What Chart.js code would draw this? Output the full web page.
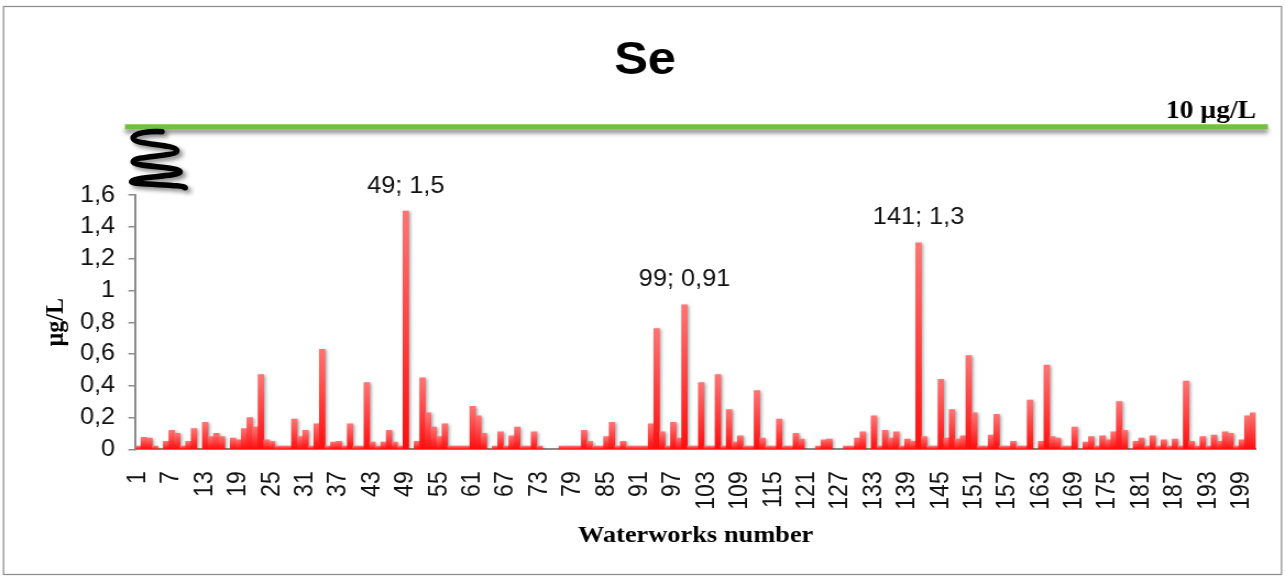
<!DOCTYPE html>
<html>
<head>
<meta charset="utf-8">
<script src="https://cdn.jsdelivr.net/npm/chart.js@4.4.1/dist/chart.umd.min.js"></script>
<style>
  html, body { margin: 0; padding: 0; background: #ffffff; overflow: hidden; }
  /* the drawing is laid out on a 1168px-wide canvas and widened to the 1285px page */
  #wrap { width: 1168px; height: 578px; transform: scaleX(1.10017); transform-origin: 0 0; }
</style>
</head>
<body>
<div id="wrap"><canvas id="chart"></canvas></div>
<script>
// Selenium (Se) in drinking water, per waterworks, µg/L
const seValues = [
  0.02, 0.075, 0.07, 0.02, 0, 0.05, 0.12, 0.10, 0.02, 0.05,
  0.13, 0, 0.17, 0.08, 0.10, 0.08, 0, 0.07, 0.06, 0.13,
  0.20, 0.14, 0.47, 0.06, 0.05, 0.02, 0.02, 0.02, 0.19, 0.08,
  0.12, 0.02, 0.16, 0.63, 0.02, 0.045, 0.05, 0.02, 0.16, 0.02,
  0.02, 0.42, 0.045, 0.02, 0.045, 0.12, 0.045, 0.02, 1.5, 0,
  0.05, 0.45, 0.23, 0.14, 0.08, 0.16, 0.02, 0.02, 0.02, 0.02,
  0.27, 0.21, 0.10, 0, 0.02, 0.11, 0.02, 0.085, 0.14, 0.02,
  0.02, 0.11, 0.02, 0, 0, 0, 0.02, 0.02, 0.02, 0.02,
  0.12, 0.05, 0.02, 0.02, 0.08, 0.17, 0.02, 0.05, 0.02, 0.02,
  0.02, 0.02, 0.16, 0.76, 0.11, 0.02, 0.17, 0.07, 0.91, 0.02,
  0.02, 0.42, 0.02, 0.02, 0.47, 0.02, 0.25, 0.045, 0.085, 0.02,
  0.02, 0.37, 0.07, 0.02, 0.02, 0.19, 0.02, 0.02, 0.10, 0.065,
  0, 0, 0.02, 0.06, 0.065, 0, 0, 0.02, 0.02, 0.07,
  0.11, 0, 0.21, 0.02, 0.12, 0.07, 0.11, 0.02, 0.065, 0.05,
  1.3, 0.08, 0.02, 0.02, 0.44, 0.07, 0.25, 0.065, 0.085, 0.59,
  0.23, 0.02, 0.02, 0.09, 0.22, 0.02, 0.02, 0.05, 0.02, 0.02,
  0.31, 0, 0.05, 0.53, 0.08, 0.07, 0.02, 0.02, 0.14, 0,
  0.045, 0.08, 0.02, 0.085, 0.06, 0.11, 0.30, 0.12, 0, 0.05,
  0.07, 0.02, 0.085, 0.02, 0.06, 0.02, 0.065, 0.02, 0.43, 0.05,
  0.02, 0.08, 0.02, 0.09, 0.05, 0.11, 0.10, 0.02, 0.06, 0.21,
  0.23
];

// waterworks are numbered consecutively from 1
const waterworks = seValues.map((_, i) => String(i + 1));

// numbers printed under the axis
const xTickLabels = ['1', '7', '13', '19', '25', '31', '37', '43', '49', '55', '61', '67', '73', '79',
  '85', '91', '97', '103', '109', '115', '121', '127', '133', '139', '145', '151', '157', '163',
  '169', '175', '181', '187', '193', '199'];

// waterworks whose value is written above the bar
const labelledWorks = ['49', '99', '141'];

const chartTitle = 'Se';
const limitText = '10 µg/L';
const yTitle = 'µg/L';
const xTitle = 'Waterworks number';

const SANS = "'Liberation Sans', Arial, Helvetica, sans-serif";
const SERIF = "'Liberation Serif', 'Times New Roman', Times, serif";
const SX = 1.10017; // horizontal widening of the page

const fmt = v => String(Math.round(v * 100) / 100).replace('.', ',');

function barFill(ctx) {
  const chart = ctx.chart;
  if (!chart.chartArea || ctx.type !== 'data' || !chart.scales.y) return '#ff3b3b';
  const y = chart.scales.y;
  const top = y.getPixelForValue(ctx.raw);
  const base = y.getPixelForValue(0);
  if (base - top < 1) return '#ff5c5c';
  const g = chart.ctx.createLinearGradient(0, top, 0, base);
  g.addColorStop(0, '#ff7474');
  g.addColorStop(1, '#ff0d0d');
  return g;
}

const decor = {
  id: 'decor',
  beforeDraw(chart) {
    const c = chart.ctx;
    c.save();
    c.fillStyle = '#ffffff';
    c.fillRect(0, 0, chart.width, chart.height);
    c.strokeStyle = '#8a8a8a';
    c.lineWidth = 1.2;
    c.strokeRect(3.2, 6.5, 1161.6, 568);
    c.restore();
  },
  beforeDatasetsDraw(chart) {
    const c = chart.ctx;
    c.save();
    c.shadowColor = 'rgba(0,0,0,0.33)';
    c.shadowBlur = 3;
    c.shadowOffsetX = 1.5;
    c.shadowOffsetY = 1;
  },
  afterDatasetsDraw(chart) {
    const c = chart.ctx;
    c.restore();
    // value callouts above selected bars
    const meta = chart.getDatasetMeta(0);
    c.save();
    c.fillStyle = '#111111';
    c.font = '23px ' + SANS;
    c.textAlign = 'center';
    c.textBaseline = 'alphabetic';
    labelledWorks.forEach(w => {
      const i = waterworks.indexOf(w);
      const bar = meta.data[i];
      c.fillText(w + '; ' + fmt(seValues[i]), bar.x, bar.y - 18.5);
    });
    c.restore();
  },
  afterDraw(chart) {
    const c = chart.ctx;
    c.save();
    // title
    c.fillStyle = '#000000';
    c.font = 'bold 46px ' + SANS;
    c.textAlign = 'center';
    c.textBaseline = 'alphabetic';
    c.fillText(chartTitle, 645 / SX, 73.5);

    // guideline value line above the broken axis
    c.save();
    c.shadowColor = 'rgba(0,0,0,0.45)';
    c.shadowBlur = 4;
    c.shadowOffsetY = 4;
    c.strokeStyle = '#72bf44';
    c.lineWidth = 5;
    c.beginPath();
    c.moveTo(125 / SX, 126.8);
    c.lineTo(1268 / SX, 126.8);
    c.stroke();
    c.restore();

    c.font = 'bold 25px ' + SERIF;
    c.textAlign = 'right';
    c.fillStyle = '#000000';
    c.fillText(limitText, 1256 / SX, 118.3);

    // axis break squiggle
    const pts = [[133.3, 138.3], [176.7, 150.7], [133.3, 161.7], [180, 171.7], [131.7, 181.7], [185, 187.7]];
    c.save();
    c.shadowColor = 'rgba(0,0,0,0.45)';
    c.shadowBlur = 4;
    c.shadowOffsetX = 3;
    c.shadowOffsetY = 3;
    c.strokeStyle = '#000000';
    c.lineWidth = 5.5;
    c.lineCap = 'round';
    c.lineJoin = 'round';
    c.beginPath();
    c.moveTo(161.7 / SX, 131.7);
    c.bezierCurveTo(150 / SX, 131.2, 133.3 / SX, 132.5, pts[0][0] / SX, pts[0][1]);
    for (let k = 1; k < pts.length; k++) {
      const [x0, y0] = pts[k - 1];
      const [x1, y1] = pts[k];
      const h = (y1 - y0) * 0.55;
      c.bezierCurveTo(x0 / SX, y0 + h, x1 / SX, y1 - h, x1 / SX, y1);
    }
    c.stroke();
    c.restore();
    c.restore();
  }
};

new Chart(document.getElementById('chart'), {
  type: 'bar',
  data: {
    labels: waterworks,
    datasets: [{
      data: seValues,
      backgroundColor: barFill,
      borderWidth: 0,
      barPercentage: 1,
      categoryPercentage: 1
    }]
  },
  options: {
    responsive: true,
    maintainAspectRatio: false,
    animation: false,
    devicePixelRatio: 1,
    layout: { padding: { top: 195.2, right: 26.6, bottom: 25.6, left: 32.6 } },
    plugins: {
      legend: { display: false },
      tooltip: { enabled: false },
      title: { display: false }
    },
    scales: {
      x: {
        grid: { display: false, drawTicks: false },
        border: { display: true, color: '#8c8c8c', width: 2 },
        ticks: {
          autoSkip: false,
          minRotation: 90,
          maxRotation: 90,
          padding: 22,
          color: '#111111',
          font: { family: SANS, size: 23 },
          callback(value, index) {
            const l = waterworks[index];
            return xTickLabels.includes(l) ? l : '';
          }
        },
        title: {
          display: true,
          text: xTitle,
          color: '#000000',
          font: { family: SERIF, size: 24, weight: 'bold' },
          padding: { top: 4, bottom: 2 }
        },
        afterFit(scale) {
          scale.height = 103.1;
          scale.paddingLeft = 0;
          scale.paddingRight = 0;
        }
      },
      y: {
        min: 0,
        max: 1.6,
        ticks: {
          stepSize: 0.2,
          padding: 12,
          color: '#111111',
          font: { family: SANS, size: 23 },
          callback: v => fmt(v)
        },
        grid: { drawOnChartArea: false, drawTicks: true, tickLength: 6.5, color: '#8c8c8c', lineWidth: 1.5 },
        border: { display: true, color: '#8c8c8c', width: 2 },
        title: {
          display: true,
          text: yTitle,
          color: '#000000',
          font: { family: SERIF, size: 24, weight: 'bold' },
          padding: { top: 4, bottom: 4 }
        },
        afterFit(scale) {
          scale.width = 90.56;
          scale.paddingTop = 0;
          scale.paddingBottom = 0;
        }
      }
    }
  },
  plugins: [decor]
});
</script>
</body>
</html>
